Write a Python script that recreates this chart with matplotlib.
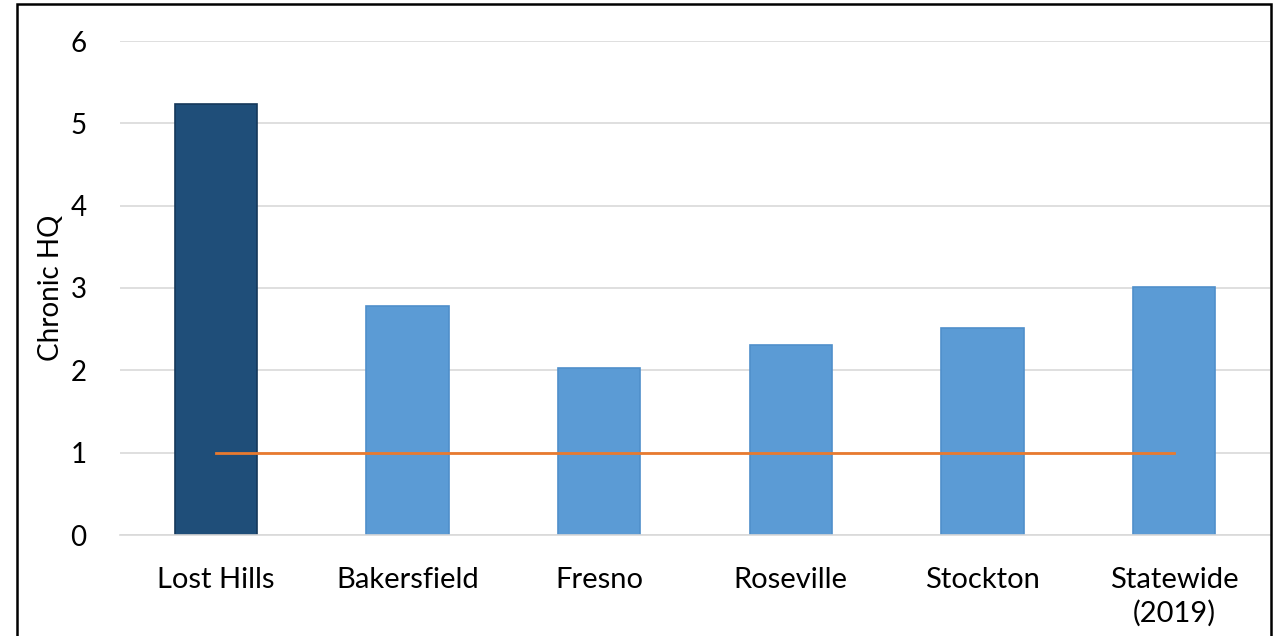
import matplotlib
matplotlib.use('Agg')
import matplotlib.pyplot as plt
from matplotlib.patches import Rectangle

sites = ['Lost Hills', 'Bakersfield', 'Fresno', 'Roseville', 'Stockton', 'Statewide\n(2019)']
chronic_hq = [5.23, 2.78, 2.03, 2.31, 2.52, 3.01]
threshold = [1, 1, 1, 1, 1, 1]
y_ticks = [0, 1, 2, 3, 4, 5, 6]

plt.rcParams['font.family'] = ['Lato', 'DejaVu Sans']

fig = plt.figure(figsize=(12.81, 6.36), dpi=100)
ax = fig.add_axes([120 / 1281, 101 / 636, 1150 / 1281, 494 / 636])

fills = ['#1f4e79'] + ['#5b9bd5'] * (len(sites) - 1)
edges = ['#15385a'] + ['#4f8fcb'] * (len(sites) - 1)
x = list(range(len(sites)))
ax.bar(x, chronic_hq, width=0.43, color=fills, edgecolor=edges, linewidth=1.2, zorder=2)
ax.plot(x, threshold, color='#e87a2f', linewidth=2, zorder=3)

ax.set_xlim(-0.5, len(sites) - 0.5)
ax.set_ylim(0, 6)
ax.set_yticks(y_ticks)
ax.set_xticks(x)
ax.set_xticklabels(sites, fontsize=21, linespacing=1.3)
ax.tick_params(axis='y', labelsize=20, length=0, pad=24)
ax.tick_params(axis='x', length=0, pad=23)
ax.yaxis.grid(True, color='#d9d9d9', linewidth=1.2, zorder=0)
ax.set_axisbelow(True)
for s in ['top', 'right', 'left']:
    ax.spines[s].set_visible(False)
ax.spines['bottom'].set_color('#d9d9d9')
ax.spines['bottom'].set_linewidth(1.2)

ax.set_ylabel('Chronic HQ', fontsize=20)
ax.yaxis.set_label_coords(-56 / 1150, 0.5)

# outer frame like the pasted chart border
fig.patches.append(Rectangle((17 / 1281, -0.02), 1254 / 1281, 1.02 - 4 / 636,
                             transform=fig.transFigure, fill=False,
                             edgecolor='black', linewidth=1.8))

fig.savefig('out.png', dpi=100)
